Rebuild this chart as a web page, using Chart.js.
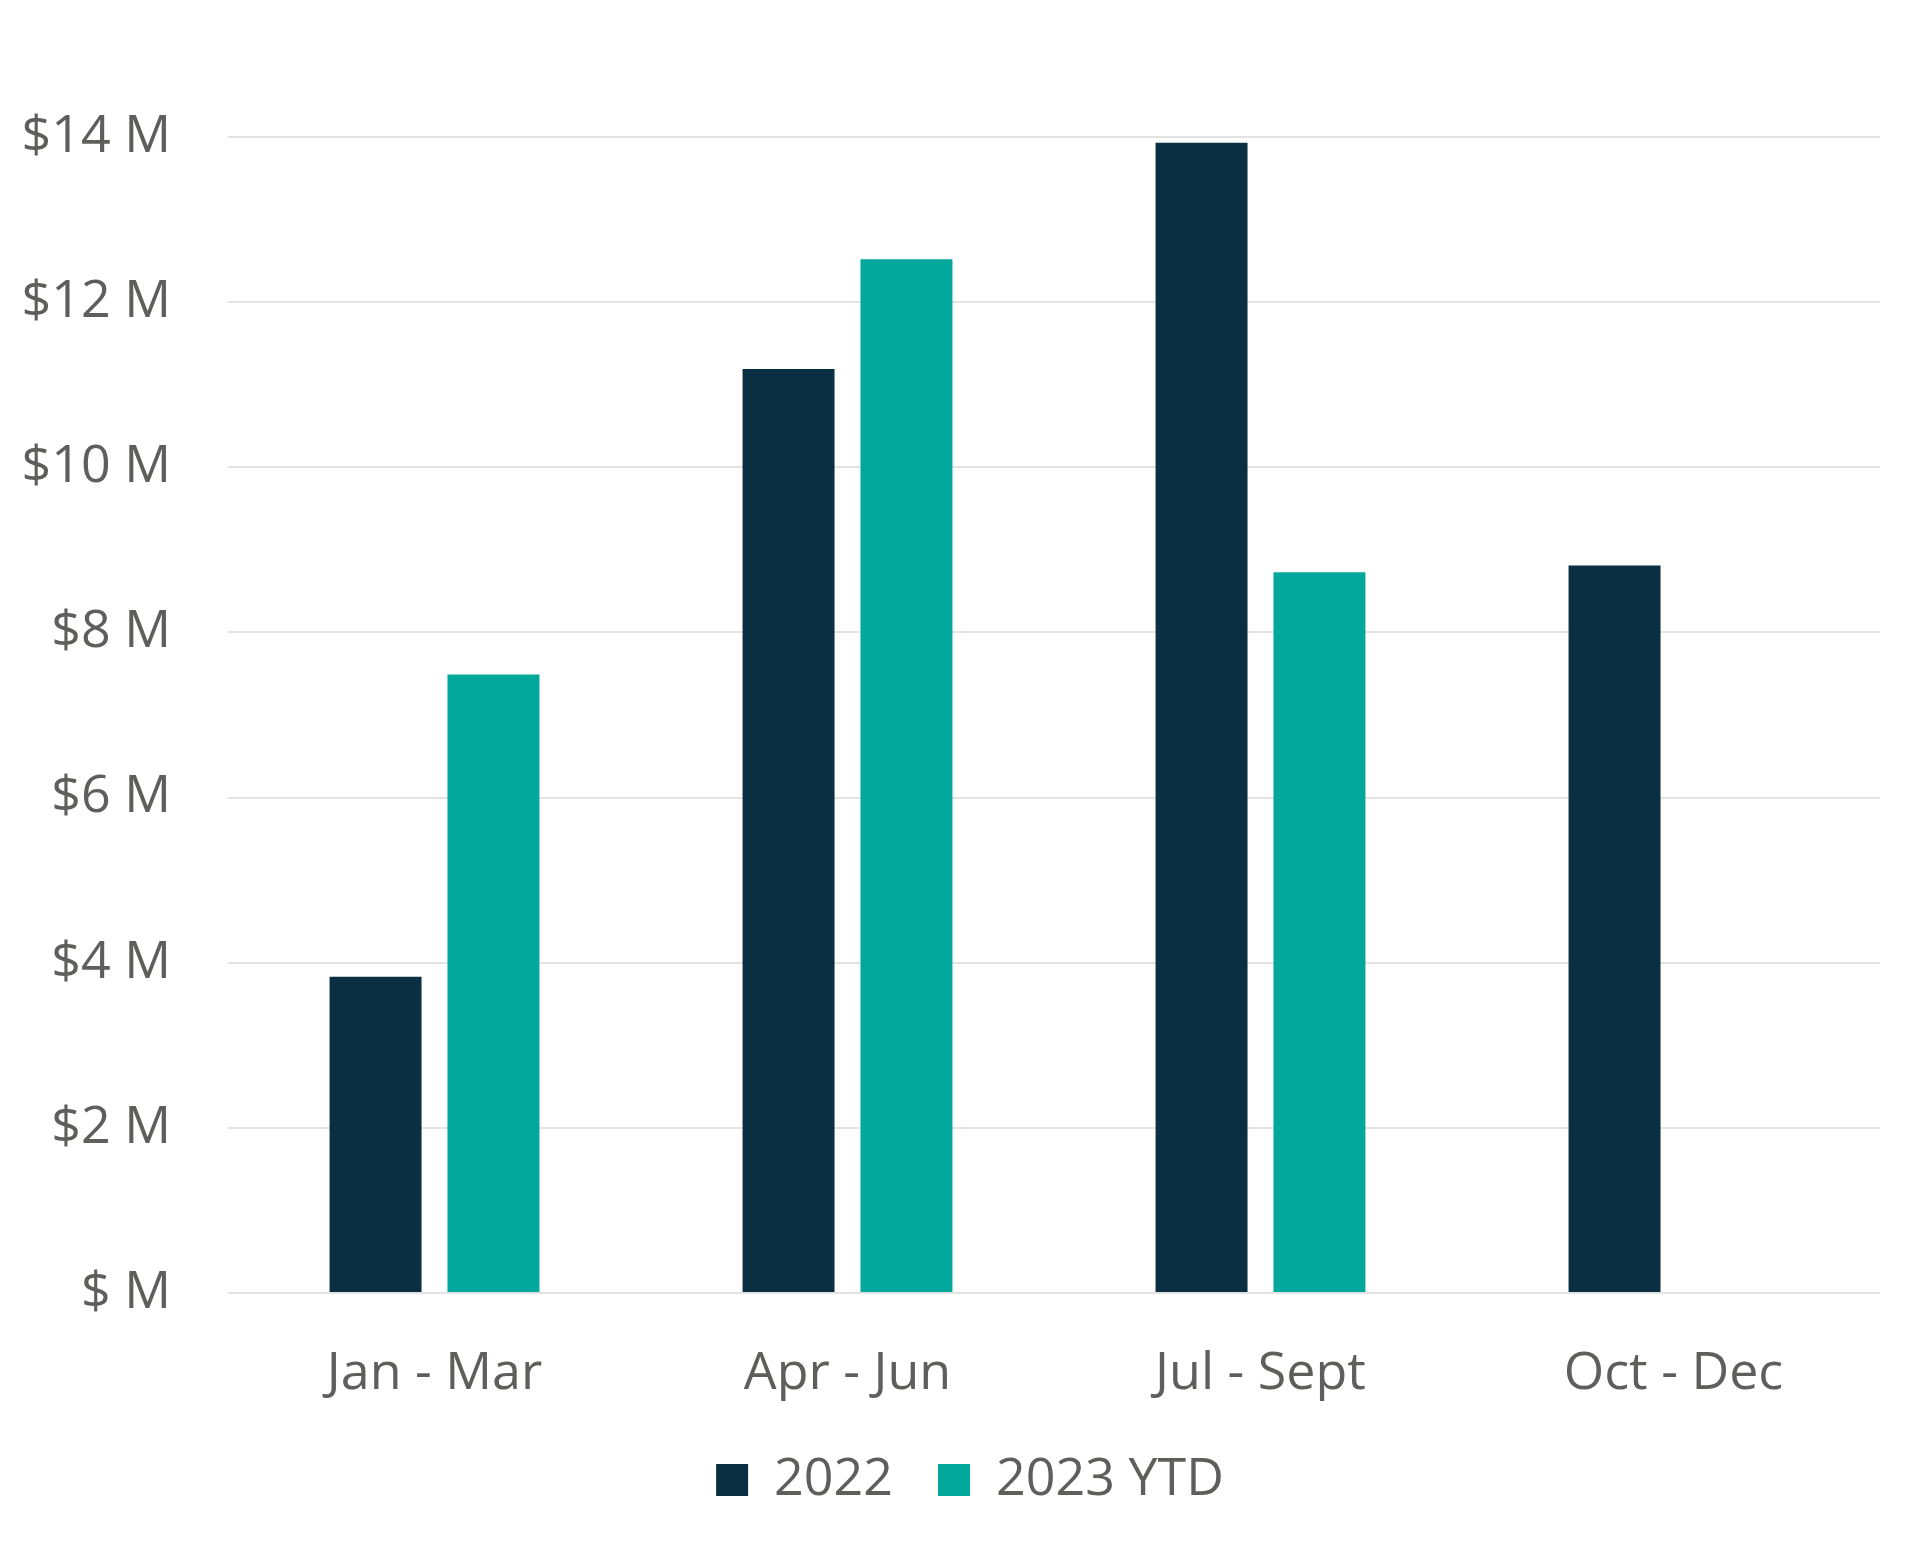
<!DOCTYPE html>
<html>
<head>
<meta charset="utf-8">
<script src="https://cdn.jsdelivr.net/npm/chart.js@4.4.0/dist/chart.umd.min.js"></script>
<style>
    html, body { margin: 0; padding: 0; background: #fff; }
    #wrap { width: 1920px; height: 1544px; }
</style>
</head>
<body>
<div id="wrap"><canvas id="quarters"></canvas></div>
<script>
// values in $ millions
const quarters = ['Jan - Mar', 'Apr - Jun', 'Jul - Sept', 'Oct - Dec'];
const sales2022 = [3.83, 11.19, 13.93, 8.81];
const sales2023 = [7.49, 12.52, 8.73, null];
const yTicks = [0, 2, 4, 6, 8, 10, 12, 14];

const textColor = '#605E5C';
Chart.defaults.font.family = '"Open Sans", sans-serif';
Chart.defaults.color = textColor;

// legend sits a bit right of the canvas centre in the original
const legendShift = {
    id: 'legendShift',
    afterLayout(chart) {
        chart.legend.left += 30;
        chart.legend.right += 30;
    }
};

new Chart(document.getElementById('quarters'), {
    type: 'bar',
    data: {
        labels: quarters,
        datasets: [
            {
                label: '2022',
                data: sales2022,
                backgroundColor: '#0b2f42',
                categoryPercentage: 0.571,
                barPercentage: 0.78
            },
            {
                label: '2023 YTD',
                data: sales2023,
                backgroundColor: '#01a89b',
                categoryPercentage: 0.571,
                barPercentage: 0.78
            }
        ]
    },
    options: {
        responsive: true,
        maintainAspectRatio: false,
        animation: false,
        layout: {
            padding: { top: 137, left: 0, right: 40, bottom: 28 }
        },
        scales: {
            x: {
                afterFit: function (scale) { scale.height = 116; },
                grid: { display: false },
                border: { display: false },
                ticks: {
                    padding: 42,
                    font: { size: 52 }
                }
            },
            y: {
                min: 0,
                max: 14,
                afterFit: function (scale) { scale.width = 228; },
                afterBuildTicks: function (scale) {
                    scale.ticks = yTicks.map(v => ({ value: v }));
                },
                grid: { color: '#e3e3e3', lineWidth: 2, drawTicks: false },
                border: { display: false },
                ticks: {
                    padding: 57,
                    font: { size: 52 },
                    callback: v => v === 0 ? '$ M' : '$' + v + ' M'
                }
            }
        },
        plugins: {
            tooltip: { enabled: false },
            legend: {
                position: 'bottom',
                labels: {
                    boxWidth: 32,
                    boxHeight: 32,
                    padding: 45,
                    font: { size: 52 }
                }
            }
        }
    },
    plugins: [legendShift]
});
</script>
</body>
</html>
